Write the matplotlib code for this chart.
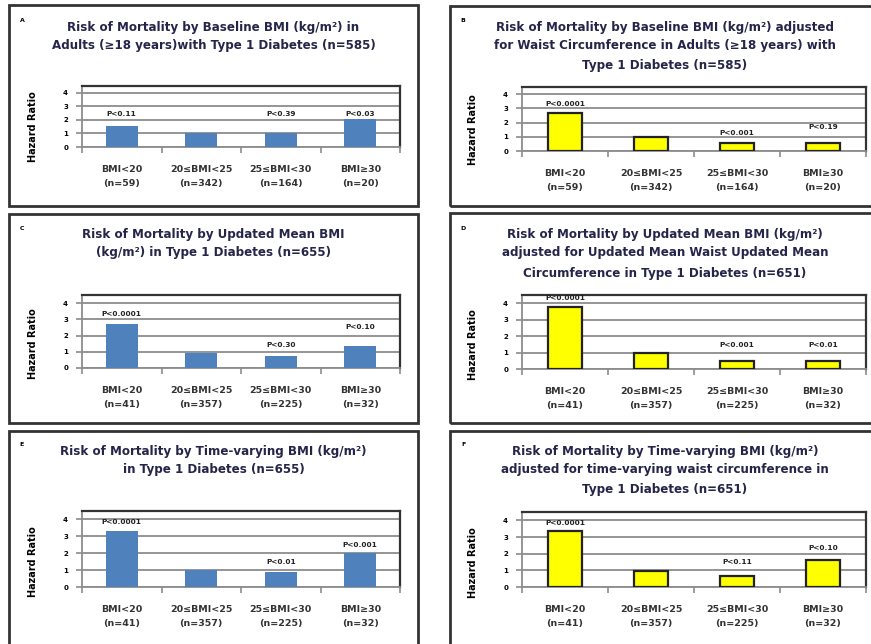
import matplotlib
matplotlib.use('Agg')
import matplotlib.pyplot as plt
from matplotlib.patches import Rectangle

# hazard ratios by BMI category, one list per model
groups_baseline = ['BMI<20\n(n=59)', '20≤BMI<25\n(n=342)', '25≤BMI<30\n(n=164)', 'BMI≥30\n(n=20)']
groups_updated = ['BMI<20\n(n=41)', '20≤BMI<25\n(n=357)', '25≤BMI<30\n(n=225)', 'BMI≥30\n(n=32)']

hr_a = [1.53, 1.04, 1.04, 2.05]
hr_b = [2.70, 0.99, 0.57, 0.57]
hr_c = [2.70, 0.91, 0.75, 1.36]
hr_d = [3.76, 0.97, 0.51, 0.51]
hr_e = [3.30, 1.01, 0.86, 2.01]
hr_f = [3.38, 0.94, 0.68, 1.62]

# p-value text and the height it sits at (None = no label)
p_a = ['P<0.11', None, 'P<0.39', 'P<0.03']
p_a_y = [2.47, None, 2.47, 2.47]
p_b = ['P<0.0001', None, 'P<0.001', 'P<0.19']
p_b_y = [3.29, None, 1.30, 1.70]
p_c = ['P<0.0001', None, 'P<0.30', 'P<0.10']
p_c_y = [3.35, None, 1.42, 2.54]
p_d = ['P<0.0001', None, 'P<0.001', 'P<0.01']
p_d_y = [4.30, None, 1.47, 1.47]
p_e = ['P<0.0001', None, 'P<0.01', 'P<0.001']
p_e_y = [3.86, None, 1.50, 2.48]
p_f = ['P<0.0001', None, 'P<0.11', 'P<0.10']
p_f_y = [3.86, None, 1.50, 2.32]

titles = [
    'Risk of Mortality by Baseline BMI (kg/m²) in\nAdults (≥18 years)with Type 1 Diabetes (n=585)',
    'Risk of Mortality by Baseline BMI (kg/m²) adjusted\nfor Waist Circumference in Adults (≥18 years) with\nType 1 Diabetes (n=585)',
    'Risk of Mortality by Updated Mean BMI\n(kg/m²) in Type 1 Diabetes (n=655)',
    'Risk of Mortality by Updated Mean BMI (kg/m²)\nadjusted for Updated Mean Waist Updated Mean\nCircumference in Type 1 Diabetes (n=651)',
    'Risk of Mortality by Time-varying BMI (kg/m²)\nin Type 1 Diabetes (n=655)',
    'Risk of Mortality by Time-varying BMI (kg/m²)\nadjusted for time-varying waist circumference in\nType 1 Diabetes (n=651)',
]
letters = ['A', 'B', 'C', 'D', 'E', 'F']

W, H = 871, 644
fig = plt.figure(figsize=(W / 100, H / 100), dpi=100)


def px_rect(l, t, r, b):
    return [l / W, 1 - b / H, (r - l) / W, (b - t) / H]


# panel frames, axes rectangles and title positions in pixels
panels = [
    dict(box=(9, 5, 418, 206), ax=(82, 86, 400, 147), ty=[27, 46], lx=22, ly=20,
         hr=hr_a, groups=groups_baseline, p=p_a, py=p_a_y, color='#4F81BD', edge='none'),
    dict(box=(450, 6, 885, 206), ax=(522, 87, 866, 151), ty=[27, 45, 65], lx=463, ly=20,
         hr=hr_b, groups=groups_baseline, p=p_b, py=p_b_y, color='#FFFF00', edge='#222222'),
    dict(box=(9, 214, 418, 423), ax=(82, 295, 400, 368), ty=[235, 253], lx=22, ly=228,
         hr=hr_c, groups=groups_updated, p=p_c, py=p_c_y, color='#4F81BD', edge='none'),
    dict(box=(450, 213, 885, 423), ax=(522, 295, 866, 369), ty=[235, 253, 273], lx=463, ly=228,
         hr=hr_d, groups=groups_updated, p=p_d, py=p_d_y, color='#FFFF00', edge='#222222'),
    dict(box=(9, 431, 418, 660), ax=(82, 511, 400, 587), ty=[452, 470], lx=22, ly=445,
         hr=hr_e, groups=groups_updated, p=p_e, py=p_e_y, color='#4F81BD', edge='none'),
    dict(box=(450, 431, 885, 660), ax=(522, 512, 866, 587), ty=[452, 470, 490], lx=463, ly=445,
         hr=hr_f, groups=groups_updated, p=p_f, py=p_f_y, color='#FFFF00', edge='#222222'),
]

for i, pn in enumerate(panels):
    l, t, r, b = pn['box']
    fig.patches.append(Rectangle((l / W, 1 - b / H), (r - l) / W, (b - t) / H,
                                 transform=fig.transFigure, fill=False,
                                 edgecolor='#333333', linewidth=2, clip_on=False))
    fig.text(pn['lx'] / W, 1 - pn['ly'] / H, letters[i], fontsize=4.5, fontweight='bold',
             ha='center', va='center')
    cx = (l + min(r, 880)) / 2
    for line, y in zip(titles[i].split('\n'), pn['ty']):
        fig.text(cx / W, 1 - y / H, line, fontsize=8.6, fontweight='bold', color='#25254a',
                 ha='center', va='center')

    ax = fig.add_axes(px_rect(*pn['ax']))
    x = list(range(len(pn['hr'])))
    ax.bar(x, pn['hr'], width=0.4, color=pn['color'], edgecolor=pn['edge'],
           linewidth=1.6 if pn['edge'] != 'none' else 0, zorder=3)
    for xi, txt, yy in zip(x, pn['p'], pn['py']):
        if txt:
            ax.text(xi, yy, txt, fontsize=5.3, fontweight='bold', ha='center', va='center',
                    color='#222222', zorder=4)

    ax.set_xlim(-0.5, 3.5)
    ax.set_ylim(0, 4.5)
    ax.set_yticks([0, 1, 2, 3, 4])
    ax.set_yticklabels(['0', '1', '2', '3', '4'], fontsize=5, fontweight='bold')
    ax.yaxis.grid(True, color='#8c8c8c', linewidth=1.3, zorder=0)
    ax.set_axisbelow(True)
    ax.tick_params(axis='y', length=4, width=1.2, color='#8c8c8c', pad=6)

    ax.set_xticks(x)
    ax.set_xticklabels(pn['groups'], fontsize=6.8, fontweight='bold', color='#333333',
                       linespacing=1.75)
    ax.set_xticks([-0.5, 0.5, 1.5, 2.5, 3.5], minor=True)
    ax.tick_params(axis='x', which='major', length=0, pad=13)
    ax.tick_params(axis='x', which='minor', length=4, width=1.2, color='#8c8c8c')

    for side in ['top', 'right']:
        ax.spines[side].set_color('#333333')
        ax.spines[side].set_linewidth(1.6)
    for side in ['left', 'bottom']:
        ax.spines[side].set_color('#8c8c8c')
        ax.spines[side].set_linewidth(1.3)

    ax.set_ylabel('Hazard Ratio', fontsize=7, fontweight='bold')
    left = 38 if pn['ax'][0] < 200 else 478
    ax.yaxis.set_label_coords((left - pn['ax'][0]) / (pn['ax'][2] - pn['ax'][0]), 0.33)

plt.savefig('out.png', dpi=100)
